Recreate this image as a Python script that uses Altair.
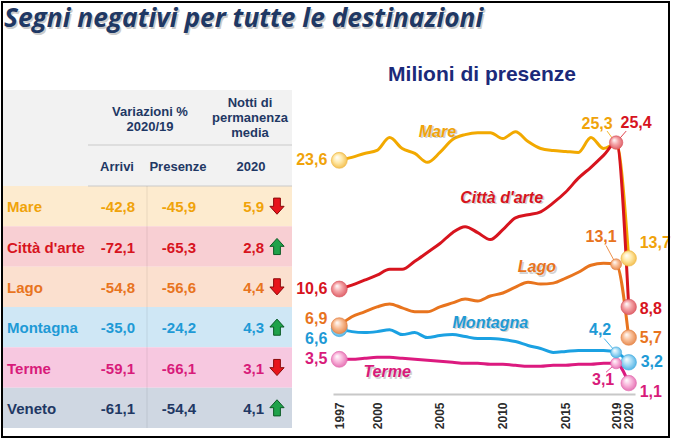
import altair as alt
import pandas as pd

# ---- Milioni di presenze per destinazione, 1997-2020 ----
years = list(range(1997, 2021))
mare = [23.6, 23.9, 24.3, 24.6, 25.9, 24.8, 24.3, 23.4, 24.4, 25.7, 26.2, 26.4,
        26.4, 25.8, 26.5, 25.5, 24.8, 24.6, 24.5, 24.4, 25.9, 24.8, 25.3, 13.7]
citta = [10.6, 11.0, 11.5, 12.0, 12.6, 12.6, 13.4, 14.3, 15.2, 16.3, 16.9, 16.3,
         15.6, 16.6, 17.8, 18.1, 18.4, 19.3, 20.4, 21.8, 22.9, 24.1, 25.4, 8.8]
lago = [6.9, 7.8, 8.3, 8.8, 9.1, 8.7, 8.3, 8.3, 8.8, 9.2, 9.6, 9.4,
        9.9, 10.2, 10.8, 11.3, 11.1, 11.2, 11.7, 12.3, 13.0, 13.2, 13.1, 5.7]
montagna = [6.6, 6.3, 6.2, 6.3, 6.5, 6.0, 6.2, 5.7, 5.9, 6.0, 5.8, 5.6,
            5.6, 5.5, 5.3, 4.9, 4.6, 4.2, 4.3, 4.4, 4.4, 4.4, 4.2, 3.2]
terme = [3.5, 3.5, 3.6, 3.7, 3.7, 3.6, 3.5, 3.4, 3.3, 3.2, 3.1, 3.1,
         3.0, 3.0, 2.9, 2.8, 2.8, 2.9, 2.9, 3.0, 3.0, 3.1, 3.1, 1.1]
series_keys = ["mare", "citta", "lago", "montagna", "terme"]
series_names = ["Mare", "Città d'arte", "Lago", "Montagna", "Terme"]
tick_years = [1997, 2000, 2005, 2010, 2015, 2019, 2020]

# ---- Tabella: variazioni % 2020/19 e notti medie ----
destinations = ["Mare", "Città d'arte", "Lago", "Montagna", "Terme", "Veneto"]
arrivi = [-42.8, -72.1, -54.8, -35.0, -59.1, -61.1]
presenze = [-45.9, -65.3, -56.6, -24.2, -66.1, -54.4]
notti = [5.9, 2.8, 4.4, 4.3, 3.1, 4.1]
trend = ["down", "up", "down", "up", "down", "up"]

# ---- styles ----
FONT = "Liberation Sans"
NAVY = "#1F3864"
LINE_COL = {"mare": "#F2A900", "citta": "#D7141E", "lago": "#E8741E",
            "montagna": "#1BA1E2", "terme": "#DC1A7F"}
TEXT_COL = {"mare": "#F0A30A", "citta": "#D7141E", "lago": "#E8741E",
            "montagna": "#1E9AD6", "terme": "#D81B7A"}
BUBBLE = {"mare": ("#FFE9A8", "#EFB43A"), "citta": ("#F4A3A6", "#D9505A"),
          "lago": ("#F9C09A", "#E27D3D"), "montagna": ("#A9DDF6", "#3DA9DF"),
          "terme": ("#F9B8DC", "#E062AA")}
ROW_BG = ["#FDEBCF", "#F8CFD3", "#FBE0CF", "#CFE7F5", "#F7C8E0", "#CFD7E2"]
ROW_TXT = ["#F0A30A", "#D7141E", "#E8741E", "#1E9AD6", "#D81B7A", NAVY]

X_SCALE = alt.Scale(domain=[1996.5, 2020.5], range=[333, 635], nice=False, zero=False)
Y_SCALE = alt.Scale(domain=[0, 26], range=[394, 136.6], nice=False)


def fmt(v):
    return f"{v:.1f}".replace(".", ",")


rows = []
for key, name, vals in zip(series_keys, series_names,
                           [mare, citta, lago, montagna, terme]):
    for y, v in zip(years, vals):
        rows.append({"key": key, "series": name, "year": y, "value": v, "label": fmt(v)})
df = pd.DataFrame(rows)

one = pd.DataFrame({"o": [0]})
layers = []


def static_text(text, x, y, size, color, weight="bold", style="normal",
                align="center", font=FONT, opacity=1.0, baseline="middle"):
    return alt.Chart(one).mark_text(
        text=text, font=font, fontSize=size, fontWeight=weight, fontStyle=style,
        color=color, align=align, baseline=baseline, opacity=opacity
    ).encode(x=alt.value(x), y=alt.value(y))


def static_rule(x, x2, y, y2, color, width=1.0, opacity=1.0):
    return alt.Chart(one).mark_rule(color=color, strokeWidth=width, opacity=opacity).encode(
        x=alt.value(x), x2=alt.value(x2), y=alt.value(y), y2=alt.value(y2))


# ---- titles ----
title = "Segni negativi per tutte le destinazioni"
layers.append(static_text(title, 5.5, 28.5, 26.3, "#7F7F7F", style="italic", align="left",
                          font="Open Sans", opacity=0.4, baseline="alphabetic"))
layers.append(static_text(title, 4, 27, 26.3, NAVY, style="italic", align="left",
                          font="Open Sans", baseline="alphabetic"))
layers.append(static_text("Milioni di presenze", 482, 75, 21, "#1B2A7A"))

# ---- table ----
tab = pd.DataFrame({"cat": destinations, "arrivi": [fmt(v) for v in arrivi],
                    "presenze": [fmt(v) for v in presenze],
                    "notti": [fmt(v) for v in notti], "trend": trend})
row_band = alt.Scale(type="band", domain=destinations, range=[186, 428],
                     paddingInner=0, paddingOuter=0)
row_point = alt.Scale(type="point", domain=destinations, range=[186, 428], padding=0.5)
row_txt_col = alt.Color("cat:N", scale=alt.Scale(domain=destinations, range=ROW_TXT), legend=None)

layers.append(alt.Chart(one).mark_rect(color="#F2F2F2").encode(
    x=alt.value(3), x2=alt.value(292), y=alt.value(90), y2=alt.value(186)))
layers.append(alt.Chart(tab).mark_rect().encode(
    y=alt.Y("cat:N", scale=row_band, axis=None),
    x=alt.value(3), x2=alt.value(292),
    color=alt.Color("cat:N", scale=alt.Scale(domain=destinations, range=ROW_BG), legend=None)))
layers.append(static_rule(88, 292, 145, 145, "#C9C9C9", 1.2))
layers.append(static_rule(88, 292, 186, 186, "#C9C9C9", 1.2))
layers.append(static_rule(147, 147, 186, 428, "#000000", 1, 0.08))

for txt, x, y in [("Variazioni %", 150, 112), ("2020/19", 150, 127),
                  ("Notti di", 250, 103), ("permanenza", 250, 118), ("media", 250, 133),
                  ("Arrivi", 117, 167), ("Presenze", 178, 167), ("2020", 251, 167)]:
    layers.append(static_text(txt, x, y, 13, NAVY))

for field, x, align in [("cat", 7, "left"), ("arrivi", 135, "right"),
                        ("presenze", 196, "right"), ("notti", 264, "right")]:
    layers.append(alt.Chart(tab).mark_text(
        font=FONT, fontSize=15, fontWeight="bold", align=align, baseline="middle", dy=1
    ).encode(y=alt.Y("cat:N", scale=row_point, axis=None), x=alt.value(x),
             text=f"{field}:N", color=row_txt_col))

ARROW_DOWN = "M -0.42 -1 L 0.42 -1 L 0.42 0.02 L 0.88 0.02 L 0 1 L -0.88 0.02 L -0.42 0.02 Z"
ARROW_UP = "M -0.42 1 L 0.42 1 L 0.42 -0.02 L 0.88 -0.02 L 0 -1 L -0.88 -0.02 L -0.42 -0.02 Z"
layers.append(alt.Chart(tab).mark_point(filled=True, size=260, strokeWidth=1, opacity=1).encode(
    y=alt.Y("cat:N", scale=row_point, axis=None), x=alt.value(277),
    shape=alt.Shape("trend:N", scale=alt.Scale(domain=["down", "up"], range=[ARROW_DOWN, ARROW_UP]), legend=None),
    fill=alt.Fill("trend:N", scale=alt.Scale(domain=["down", "up"], range=["#E8141B", "#1FA24A"]), legend=None),
    stroke=alt.Stroke("trend:N", scale=alt.Scale(domain=["down", "up"], range=["#8A0A0A", "#0C5A25"]), legend=None)))

# ---- line chart ----
xq = alt.X("year:Q", scale=X_SCALE, axis=None)
yq = alt.Y("value:Q", scale=Y_SCALE, axis=None)

axis = alt.Axis(values=tick_years, format="d", labelAngle=270, labelFont=FONT,
                labelFontWeight="bold", labelFontSize=12, labelColor="#2B2B2B",
                domainColor="#C8C8C8", domainWidth=2, ticks=False, grid=False,
                labelPadding=8, offset=-46, labelOverlap=False, title=None,
                labelBound=False, labelFlush=False)
layers.append(alt.Chart(df).mark_line(opacity=0).encode(
    x=alt.X("year:Q", scale=X_SCALE, axis=axis), y=yq))

draw_order = ["terme", "montagna", "lago", "mare", "citta"]
for key in draw_order:
    layers.append(alt.Chart(df).transform_filter(alt.datum.key == key).mark_line(
        color=LINE_COL[key], strokeWidth=3, interpolate="monotone", strokeCap="round"
    ).encode(x=xq, y=yq))

# leader lines for the 2019 labels (offsets in data units)
leaders = {"mare": (-0.72, 1.26), "citta": (0.8, 1.16), "lago": (-0.8, 1.9),
           "montagna": (-0.95, 1.4), "terme": (-0.8, -0.9)}
for key, (ddx, ddy) in leaders.items():
    layers.append(alt.Chart(df).transform_filter(
        (alt.datum.key == key) & (alt.datum.year == 2019)
    ).transform_calculate(x2=f"datum.year + ({ddx})", y2=f"datum.value + ({ddy})").mark_rule(
        color=LINE_COL[key], strokeWidth=1, opacity=0.8
    ).encode(x=xq, y=yq, x2="x2:Q", y2="y2:Q"))


def bubble(light, edge):
    return alt.RadialGradient(
        gradient="radial", x1=0.35, y1=0.3, r1=0.0, x2=0.5, y2=0.5, r2=0.6,
        stops=[alt.GradientStop(offset=0, color="#FFFFFF"),
               alt.GradientStop(offset=0.45, color=light),
               alt.GradientStop(offset=1, color=edge)])


point_sizes = {1997: 256, 2019: 121, 2020: 240}
for year in [1997, 2020, 2019]:
    for key in ["terme", "montagna", "lago", "mare", "citta"]:
        size = 180 if (year == 2019 and key == "citta") else point_sizes[year]
        light, edge = BUBBLE[key]
        layers.append(alt.Chart(df).transform_filter(
            (alt.datum.key == key) & (alt.datum.year == year)
        ).mark_circle(fill=bubble(light, edge), size=size, stroke=edge,
                      strokeWidth=0.6, opacity=1).encode(x=xq, y=yq))

# value labels: (series, year) -> (dx, dy, align)
label_pos = {
    ("mare", 1997): (-12, 0, "right"), ("citta", 1997): (-12, 0, "right"),
    ("lago", 1997): (-12, -7, "right"), ("montagna", 1997): (-12, 10, "right"),
    ("terme", 1997): (-12, 0, "right"),
    ("mare", 2019): (-19, -20, "center"), ("citta", 2019): (20, -20, "center"),
    ("lago", 2019): (-15, -27, "center"), ("montagna", 2019): (-16, -22, "center"),
    ("terme", 2019): (-13, 17, "center"),
    ("mare", 2020): (11, -15, "left"), ("citta", 2020): (11, 2, "left"),
    ("lago", 2020): (11, 0, "left"), ("montagna", 2020): (12, 0, "left"),
    ("terme", 2020): (11, 9, "left"),
}
for (key, year), (dx, dy, align) in label_pos.items():
    layers.append(alt.Chart(df).transform_filter(
        (alt.datum.key == key) & (alt.datum.year == year)
    ).mark_text(font=FONT, fontSize=16, fontWeight="bold", color=TEXT_COL[key],
                dx=dx, dy=dy, align=align, baseline="middle").encode(
        x=xq, y=yq, text="label:N"))

# series names placed along their curves (data coordinates)
name_anchor = {"mare": (2004.8, 26.5), "citta": (2009.9, 19.8), "lago": (2012.7, 12.8),
               "montagna": (2009.0, 7.2), "terme": (2000.8, 2.2)}
names = pd.DataFrame([{"key": k, "name": n, "ax": name_anchor[k][0], "ay": name_anchor[k][1]}
                      for k, n in zip(series_keys, series_names)])
for key in series_keys:
    sub = alt.Chart(names).transform_filter(alt.datum.key == key)
    enc = dict(x=alt.X("ax:Q", scale=X_SCALE, axis=None),
               y=alt.Y("ay:Q", scale=Y_SCALE, axis=None), text="name:N")
    layers.append(sub.mark_text(font=FONT, fontSize=16, fontWeight="bold", fontStyle="italic",
                                color="#808080", opacity=0.35, dx=1.5, dy=1.5).encode(**enc))
    layers.append(sub.mark_text(font=FONT, fontSize=16, fontWeight="bold", fontStyle="italic",
                                color=TEXT_COL[key]).encode(**enc))

# slide frame
layers.append(alt.Chart(one).mark_rect(fillOpacity=0, stroke="#000000", strokeWidth=2).encode(
    x=alt.value(2), x2=alt.value(669), y=alt.value(2), y2=alt.value(437)))

chart = alt.layer(*layers).resolve_scale(
    x="independent", y="independent", color="independent", shape="independent",
    fill="independent", stroke="independent"
).properties(width=674, height=440, padding=0, autosize="none", background="white"
).configure_view(strokeOpacity=0)

chart.save("out.html", embed_options={"renderer": "svg", "actions": False})
